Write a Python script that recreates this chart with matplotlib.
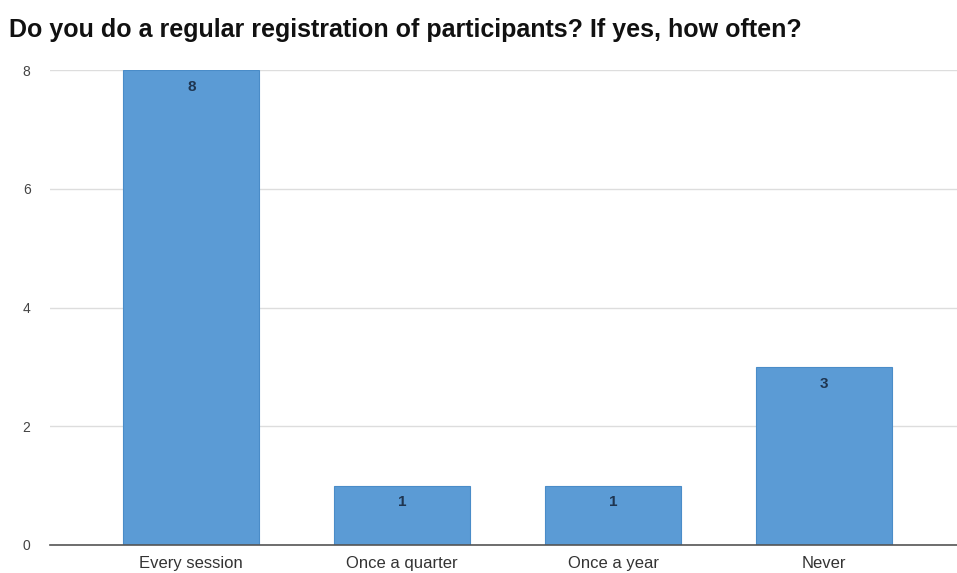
import matplotlib
matplotlib.use("Agg")
import matplotlib.pyplot as plt

categories = ["Every session", "Once a quarter", "Once a year", "Never"]
counts = [8, 1, 1, 3]
y_ticks = [0, 2, 4, 6, 8]
title = "Do you do a regular registration of participants? If yes, how often?"

bar_color = "#5b9bd5"

fig = plt.figure(figsize=(9.57, 5.73), dpi=100)
ax = fig.add_axes([50 / 957, 1 - 545 / 573, 1 - 50 / 957, (545 - 70) / 573])

x = list(range(len(categories)))
ax.bar(x, counts, width=0.645, color=bar_color, edgecolor="#4a8cc8", linewidth=0.8, zorder=3)

for xi, v in zip(x, counts):
    ax.annotate(str(v), (xi, v), xytext=(0, -7), textcoords="offset points",
                ha="center", va="top", fontsize=11, color="#1f3550",
                family="Liberation Sans", fontweight="bold", zorder=4)

ax.set_xlim(-0.67, 3.63)
ax.set_ylim(0, 8)
ax.set_yticks(y_ticks)
ax.set_yticklabels([str(t) for t in y_ticks], family="Liberation Sans", fontsize=10, color="#444444")
ax.set_xticks(x)
ax.set_xticklabels(categories, family="Liberation Sans", fontsize=12, color="#333333")
ax.tick_params(axis="both", length=0)
ax.tick_params(axis="y", pad=14)
ax.tick_params(axis="x", pad=8)

ax.grid(axis="y", color="#dddddd", linewidth=1, zorder=0)
for s in ["top", "right", "left"]:
    ax.spines[s].set_visible(False)
ax.spines["bottom"].set_color("#555555")
ax.spines["bottom"].set_linewidth(1.2)
ax.spines["bottom"].set_zorder(5)

fig.text(9 / 957, 1 - 30 / 573, title, family="Liberation Sans", fontweight="bold",
         fontsize=18, color="#111111", ha="left", va="center")

fig.savefig("out.png", dpi=100)
